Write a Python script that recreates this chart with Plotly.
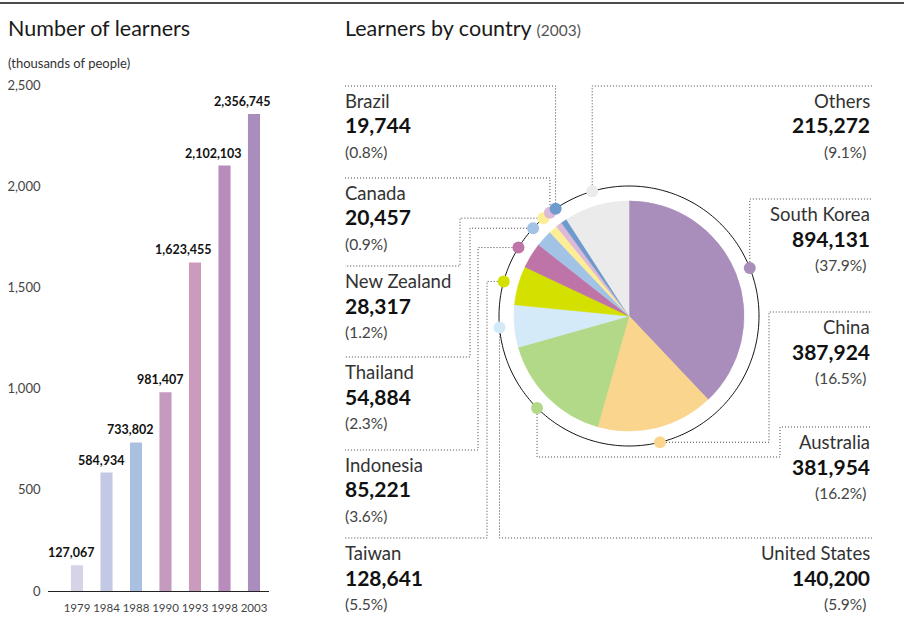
import math
import plotly.graph_objects as go

# ---------------- data ----------------
years = ["1979", "1984", "1988", "1990", "1993", "1998", "2003"]
learners_thousands = [127.067, 584.934, 733.802, 981.407, 1623.455, 2102.103, 2356.745]
bar_colors = ["#d5d3e8", "#c3c8e5", "#aac0e0", "#c49abf", "#cb9bbd", "#b78cbd", "#a98ebd"]
y_ticks = [0, 500, 1000, 1500, 2000, 2500]

countries = ["South Korea", "China", "Australia", "United States", "Taiwan", "Indonesia",
             "Thailand", "New Zealand", "Canada", "Brazil", "Others"]
country_values = [894131, 387924, 381954, 140200, 128641, 85221, 54884, 28317, 20457, 19744, 215272]
country_colors = ["#a98dba", "#fad58d", "#b2d987", "#d5eaf9", "#d4e100", "#bf74a8",
                  "#a3c3e6", "#fdee96", "#dcb9d9", "#6e9ace", "#ebebeb"]

# ---------------- geometry (pixels) ----------------
W, H = 904, 638
CX, CY = 629, 316
R_PIE, R_RING, R_MAX = 115, 130, 136


def px(x):
    return x / W


def py(y):
    return 1 - y / H


total = sum(country_values)
cum = 0
mids, widths = [], []
for v in country_values:
    widths.append(360.0 * v / total)
    mids.append(360.0 * (cum + v / 2.0) / total)
    cum += v
pcts = [100.0 * v / total for v in country_values]

fig = go.Figure()

# bar chart
fig.add_trace(go.Bar(
    x=years, y=learners_thousands, width=0.41,
    marker=dict(color=bar_colors, line=dict(width=0)),
    xaxis="x", yaxis="y", hoverinfo="skip", showlegend=False))

# pie as barpolar wedges
fig.add_trace(go.Barpolar(
    r=[R_PIE] * len(countries), theta=mids, width=widths,
    marker=dict(color=country_colors, line=dict(width=0.6, color=country_colors)),
    subplot="polar", hoverinfo="skip", showlegend=False))

# ring
fig.add_trace(go.Scatterpolar(
    r=[R_RING] * 361, theta=list(range(361)), mode="lines",
    line=dict(color="#111111", width=1), subplot="polar",
    hoverinfo="skip", showlegend=False))

# dots on ring
fig.add_trace(go.Scatterpolar(
    r=[R_RING] * len(countries), theta=mids, mode="markers",
    marker=dict(size=12, color=country_colors, line=dict(width=0)),
    subplot="polar", hoverinfo="skip", showlegend=False))

# ---------------- label layout ----------------
label_pos = {
    "Brazil": ("left", 86), "Canada": ("left", 178), "New Zealand": ("left", 266),
    "Thailand": ("left", 357), "Indonesia": ("left", 450), "Taiwan": ("left", 538),
    "Others": ("right", 86), "South Korea": ("right", 199), "China": ("right", 312),
    "Australia": ("right", 427), "United States": ("right", 538),
}
left_elbow = {"New Zealand": 460, "Thailand": 470, "Indonesia": 478, "Taiwan": 487}
XL, XR = 345, 872

shapes = [dict(type="line", xref="paper", yref="paper", x0=0, x1=1, y0=py(3), y1=py(3),
               line=dict(color="#111111", width=1.5))]
annotations = []

for i, c in enumerate(countries):
    a = math.radians(mids[i])
    dx = CX + R_RING * math.sin(a)
    dy = CY - R_RING * math.cos(a)
    side, L = label_pos[c]
    if c in ("Brazil", "Canada"):
        pts = [(XL, L), (dx, L), (dx, dy)]
    elif c in left_elbow:
        e = left_elbow[c]
        pts = [(dx, dy), (e, dy), (e, L), (XL, L)]
    elif c == "China":
        pts = [(dx, dy), (769, dy), (769, L), (XR, L)]
    elif c == "Australia":
        pts = [(dx, dy), (dx, 457), (780, 457), (780, L), (XR, L)]
    else:
        pts = [(dx, dy), (dx, L), (XR, L)]
    path = "M " + " L ".join(f"{px(x):.5f},{py(y):.5f}" for x, y in pts)
    shapes.append(dict(type="path", xref="paper", yref="paper", path=path, layer="below",
                       line=dict(color="#444444", width=1, dash="1px,2px")))

    if side == "left":
        x, anchor = px(343), "left"
    else:
        x, anchor = px(872), "right"
    annotations.append(dict(x=x, y=py(L + 15), xref="paper", yref="paper", xanchor=anchor,
                            yanchor="middle", text=c, showarrow=False,
                            font=dict(family="Lato", size=18.5, color="#333333")))
    annotations.append(dict(x=x, y=py(L + 39), xref="paper", yref="paper", xanchor=anchor,
                            yanchor="middle", text=f"<b>{country_values[i]:,}</b>", showarrow=False,
                            font=dict(family="Lato", size=21, color="#111111")))
    annotations.append(dict(x=x, y=py(L + 66), xref="paper", yref="paper", xanchor=anchor,
                            yanchor="middle", text=f"({pcts[i]:.1f}%)", showarrow=False,
                            xshift=-4 if side == "right" else 0,
                            font=dict(family="Lato", size=15.5, color="#444444")))

# bar value labels (category index on the x axis)
for i, v in enumerate(learners_thousands):
    annotations.append(dict(x=i, y=v, xref="x", yref="y", xanchor="right", yanchor="bottom",
                            xshift=19, yshift=3, showarrow=False,
                            text=f"<b>{int(round(v * 1000)):,}</b>",
                            font=dict(family="Lato", size=12.5, color="#111111")))

# titles
annotations += [
    dict(x=px(6), y=py(28), xref="paper", yref="paper", xanchor="left", yanchor="middle",
         text="Number of learners", showarrow=False,
         font=dict(family="Lato", size=21.5, color="#1a1a1a")),
    dict(x=px(6), y=py(63), xref="paper", yref="paper", xanchor="left", yanchor="middle",
         text="(thousands of people)", showarrow=False,
         font=dict(family="Lato", size=13, color="#333333")),
    dict(x=px(343), y=py(28), xref="paper", yref="paper", xanchor="left", yanchor="middle",
         text="Learners by country <span style='font-size:15.5px;color:#555555'>(2003)</span>",
         showarrow=False, font=dict(family="Lato", size=21.5, color="#1a1a1a")),
]

fig.update_layout(
    width=W, height=H, autosize=False,
    margin=dict(l=0, r=0, t=0, b=0, pad=0, autoexpand=False),
    paper_bgcolor="white", plot_bgcolor="white",
    font=dict(family="Lato", color="#333333"),
    showlegend=False,
    xaxis=dict(domain=[px(47.5), px(268.75)], type="category", range=[-1, 6.5],
               showline=True, linecolor="#222222", linewidth=1.3, ticks="", tickangle=0,
               showgrid=False, zeroline=False, ticklabelstandoff=6, automargin=False,
               tickfont=dict(family="Lato", size=11.5, color="#444444"), fixedrange=True),
    yaxis=dict(domain=[py(591), py(85)], range=[0, 2500], tickvals=y_ticks, tickformat=",",
               showgrid=False, zeroline=False, showline=False, ticks="", ticklabelstandoff=6,
               automargin=False,
               tickfont=dict(family="Lato", size=13, color="#444444"), fixedrange=True),
    polar=dict(domain=dict(x=[px(CX - R_MAX), px(CX + R_MAX)], y=[py(CY + R_MAX), py(CY - R_MAX)]),
               bgcolor="rgba(0,0,0,0)",
               radialaxis=dict(range=[0, R_MAX], visible=False, showgrid=False),
               angularaxis=dict(rotation=90, direction="clockwise", visible=False, showgrid=False)),
    shapes=shapes,
    annotations=annotations,
)

fig.write_html("out.html", config={"displayModeBar": False},
               post_script="document.body.style.margin='0px';document.body.style.overflow='hidden';")
